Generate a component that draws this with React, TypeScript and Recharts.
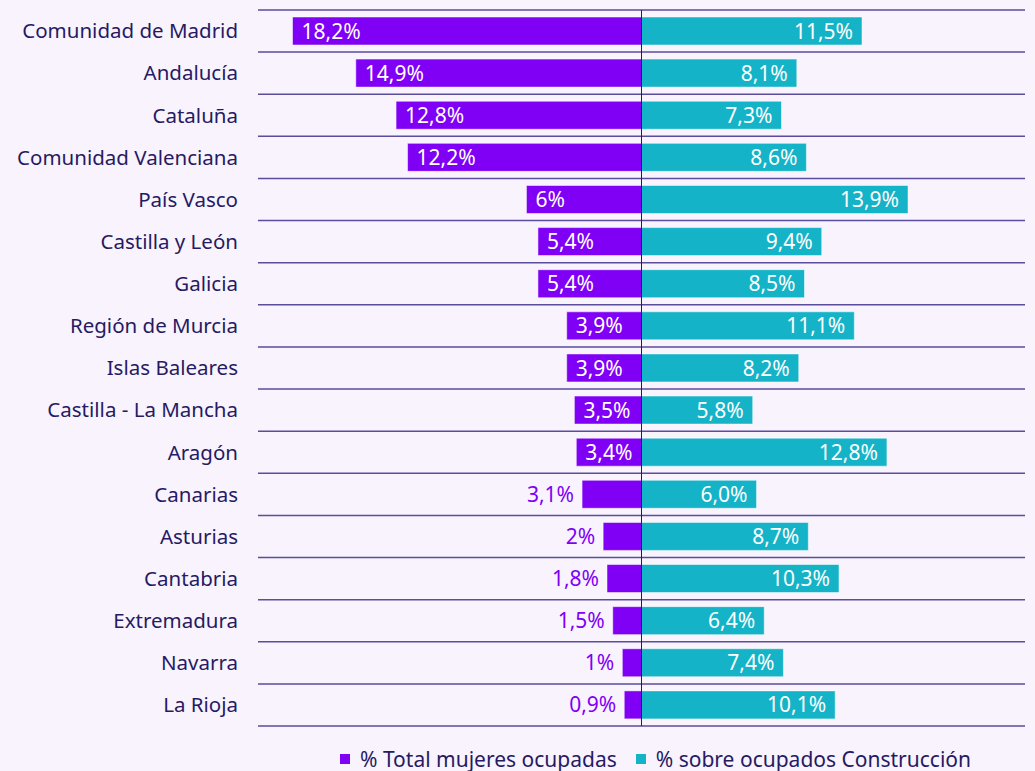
import { BarChart, Bar, XAxis, YAxis, CartesianGrid, ReferenceLine, Legend, LabelList } from "recharts";

const regions = [
  "Comunidad de Madrid",
  "Andalucía",
  "Cataluña",
  "Comunidad Valenciana",
  "País Vasco",
  "Castilla y León",
  "Galicia",
  "Región de Murcia",
  "Islas Baleares",
  "Castilla - La Mancha",
  "Aragón",
  "Canarias",
  "Asturias",
  "Cantabria",
  "Extremadura",
  "Navarra",
  "La Rioja",
];
const mujeres = [18.2, 14.9, 12.8, 12.2, 6, 5.4, 5.4, 3.9, 3.9, 3.5, 3.4, 3.1, 2, 1.8, 1.5, 1, 0.9];
const construccion = [11.5, 8.1, 7.3, 8.6, 13.9, 9.4, 8.5, 11.1, 8.2, 5.8, 12.8, 6.0, 8.7, 10.3, 6.4, 7.4, 10.1];

const PURPLE = "#7f00f5";
const TEAL = "#14b3c7";
const NAVY = "#261a63";
const GRID = "#5a4d9b";
const BG = "#f8f3fd";
const FONT = "'Noto Sans', sans-serif";

// left series plotted as negatives so it grows leftwards from 0
const rows = regions.map((name, i) => ({ name, mujeres: -mujeres[i], construccion: construccion[i] }));

const pct = (v: number, fixed: boolean) => (fixed ? v.toFixed(1) : String(v)).replace(".", ",") + "%";

// separators sit between the category bands, not at their centres
const bandEdges = ({ offset }: any) => {
  const n = regions.length;
  return Array.from({ length: n + 1 }, (_, i) => offset.top + (offset.height * i) / n);
};

function box(props: any) {
  const vb = props.viewBox ?? props;
  const x = Number(vb.x ?? props.x);
  const w = Number(vb.width ?? props.width);
  const y = Number(vb.y ?? props.y);
  const h = Number(vb.height ?? props.height);
  return { left: Math.min(x, x + w), right: Math.max(x, x + w), cy: y + h / 2 };
}

function LeftLabel(props: any) {
  const { left, cy } = box(props);
  const v = Math.abs(Number(props.value));
  const inside = v > 3.2;
  return (
    <text
      x={inside ? left + 9 : left - 8}
      y={cy}
      dy="0.36em"
      textAnchor={inside ? "start" : "end"}
      fill={inside ? "#ffffff" : PURPLE}
      fontSize={21}
      fontFamily={FONT}
    >
      {pct(v, false)}
    </text>
  );
}

function RightLabel(props: any) {
  const { right, cy } = box(props);
  return (
    <text x={right - 9} y={cy} dy="0.36em" textAnchor="end" fill="#ffffff" fontSize={21} fontFamily={FONT}>
      {pct(Number(props.value), true)}
    </text>
  );
}

function LegendBox(props: any) {
  const items = props.payload ?? [];
  return (
    <div style={{ display: "flex", paddingLeft: 340, paddingTop: 21, height: 45, boxSizing: "border-box", fontFamily: FONT, fontSize: 21, color: NAVY, lineHeight: "27px" }}>
      {items.map((it: any, i: number) => (
        <div key={i} style={{ display: "flex", alignItems: "center", marginRight: 19 }}>
          <span style={{ width: 10, height: 10, background: it.color, marginRight: 10, display: "inline-block" }} />
          <span>{it.value}</span>
        </div>
      ))}
    </div>
  );
}

export default function App() {
  return (
    <div style={{ position: "absolute", left: 0, top: 0, width: 1035, height: 771, background: BG, overflow: "hidden" }}>
      <BarChart
        width={1035}
        height={771}
        data={rows}
        layout="vertical"
        stackOffset="sign"
        margin={{ top: 10, right: 10, bottom: 0, left: 0 }}
      >
        <CartesianGrid vertical={false} stroke={GRID} strokeWidth={1.5} horizontalCoordinatesGenerator={bandEdges} />
        <XAxis type="number" domain={[-20, 20]} hide />
        <YAxis
          type="category"
          dataKey="name"
          width={258}
          tickLine={false}
          axisLine={false}
          tickSize={6}
          tickMargin={14}
          interval={0}
          tick={{ fill: NAVY, fontSize: 20.5, fontFamily: FONT }}
        />
        <Bar dataKey="mujeres" name="% Total mujeres ocupadas" stackId="a" fill={PURPLE} stroke="#ffffff" strokeOpacity={0.5} barSize={28} isAnimationActive={false}>
          <LabelList dataKey="mujeres" content={LeftLabel} />
        </Bar>
        <Bar dataKey="construccion" name="% sobre ocupados Construcción" stackId="a" fill={TEAL} stroke="#ffffff" strokeOpacity={0.5} barSize={28} isAnimationActive={false}>
          <LabelList dataKey="construccion" content={RightLabel} />
        </Bar>
        <ReferenceLine x={0} stroke="#24185e" strokeWidth={1} />
        <Legend verticalAlign="bottom" content={LegendBox} />
      </BarChart>
    </div>
  );
}
